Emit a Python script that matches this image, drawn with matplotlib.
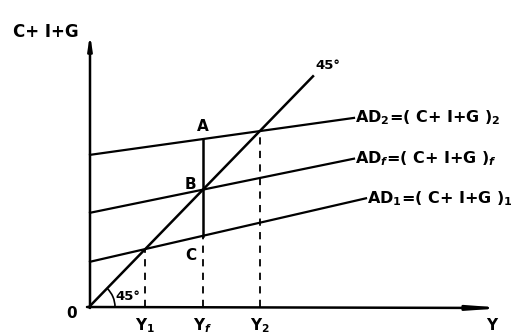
import matplotlib.pyplot as plt
from matplotlib.patches import Arc

# aggregate demand lines (pixel-like units, origin at the axes corner)
ad_labels = ["AD$_1$=( C+ I+G )$_1$", "AD$_f$=( C+ I+G )$_f$", "AD$_2$=( C+ I+G )$_2$"]
ad_intercepts = [45, 94, 152]
ad_slopes = [0.23, 0.205, 0.14]
ad_ends = [277, 265, 265]
y_labels = ["Y$_1$", "Y$_f$", "Y$_2$"]
line45_slope = 1.03
line45_end = 224

plt.rcParams["font.family"] = ["DejaVu Sans"]
plt.rcParams["font.weight"] = "bold"

fig = plt.figure(figsize=(5.28, 3.36), dpi=100)
ax = fig.add_axes([0, 0, 1, 1])
ax.set_xlim(-89, 439)
ax.set_ylim(-29, 307)
ax.axis("off")

# axes with arrows
ax.annotate("", xy=(1, 273), xytext=(1, -1),
            arrowprops=dict(arrowstyle="-|>,head_length=0.8,head_width=0.12", lw=1.8,
                            color="black", shrinkA=0, shrinkB=0))
ax.annotate("", xy=(416, -1), xytext=(-2, 0),
            arrowprops=dict(arrowstyle="-|>,head_length=1.8,head_width=0.13", lw=1.8,
                            color="black", shrinkA=0, shrinkB=0))

# 45 degree line
ax.plot([0, line45_end], [0, line45_slope * line45_end], color="black", lw=1.8)
ax.add_patch(Arc((0, 0), 52, 52, theta1=0, theta2=46, color="black", lw=1.2))
ax.text(line45_end + 2, line45_slope * line45_end + 11, "45°", fontsize=9.5, ha="left", va="center")
ax.text(26, 11, "45°", fontsize=9.5, ha="left", va="center")

# AD lines and equilibrium points
eq_x = []
for lab, a, b, end in zip(ad_labels, ad_intercepts, ad_slopes, ad_ends):
    ax.plot([1, end], [a + b * 1, a + b * end], color="black", lw=1.6)
    ax.text(end + 1, a + b * end, lab, fontsize=11.5, ha="left", va="center")
    eq_x.append(a / (line45_slope - b))

# dashed drop lines to the Y axis
y1, yf, y2 = eq_x
ax.plot([y1, y1], [0, line45_slope * y1], color="black", lw=1.3, dashes=(4, 3.5))
ax.plot([y2, y2], [0, line45_slope * y2], color="black", lw=1.3, dashes=(4, 3.5))
c_val = ad_intercepts[0] + ad_slopes[0] * yf
a_val = ad_intercepts[2] + ad_slopes[2] * yf
b_val = line45_slope * yf
ax.plot([yf, yf], [0, c_val], color="black", lw=1.3, dashes=(4, 3.5))
ax.plot([yf, yf], [c_val, a_val], color="black", lw=1.8)

ax.text(yf, a_val + 13, "A", fontsize=11, ha="center", va="center")
ax.text(yf - 13, b_val + 5, "B", fontsize=11, ha="center", va="center")
ax.text(yf - 12, c_val - 20, "C", fontsize=11, ha="center", va="center")

for x, lab in zip(eq_x, y_labels):
    ax.text(x, -19, lab, fontsize=11, ha="center", va="center")
ax.text(403, -19, "Y", fontsize=11, ha="center", va="center")
ax.text(-17, -6, "0", fontsize=11, ha="center", va="center")
ax.text(-43, 275, "C+ I+G", fontsize=12, ha="center", va="center")

fig.savefig("out.png", dpi=100)
